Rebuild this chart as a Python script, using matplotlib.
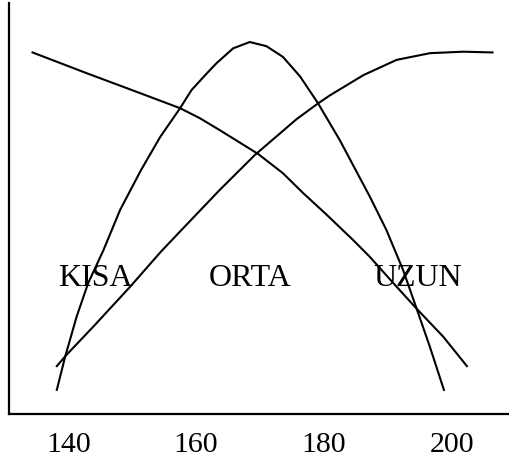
import matplotlib

matplotlib.use("Agg")
import matplotlib.pyplot as plt

# membership curves (height in cm, membership 0..1)
kisa_x = [134.4, 142.9, 150.7, 157.5, 160.6, 163.7, 169.7, 173.6, 176.8, 180.4,
          184.6, 187.2, 190.9, 194.5, 198.7, 202.4]
kisa_y = [0.972, 0.916, 0.866, 0.822, 0.795, 0.763, 0.699, 0.647, 0.593, 0.536,
          0.467, 0.422, 0.351, 0.283, 0.207, 0.128]

orta_x = [138.2, 139.5, 141.3, 143.1, 145.5, 148.1, 151.4, 154.4, 157.5, 159.3, 161.7, 163.2, 165.8,
          168.4, 171.0, 173.6, 176.3, 177.7, 179.1, 182.5, 187.2, 189.8, 192.4, 194.5, 196.6, 198.8]
orta_y = [0.064, 0.153, 0.261, 0.351, 0.440, 0.548, 0.656, 0.745, 0.822, 0.871, 0.916, 0.943, 0.983,
          1.000, 0.989, 0.960, 0.907, 0.871, 0.835, 0.736, 0.584, 0.494, 0.387, 0.284, 0.180, 0.064]

uzun_x = [138.2, 139.7, 143.9, 149.7, 154.5, 157.7, 163.7, 169.2, 175.7, 179.1, 181.0,
          186.2, 191.4, 196.6, 201.8, 206.4]
uzun_y = [0.128, 0.158, 0.234, 0.342, 0.436, 0.494, 0.602, 0.696, 0.792, 0.835, 0.857,
          0.911, 0.952, 0.970, 0.974, 0.972]

ticks = [140, 160, 180, 200]
labels = ["KISA", "ORTA", "UZUN"]
label_x = [144.2, 168.4, 194.7]
label_y = 0.365

plt.rcParams.update({
    "font.family": "Liberation Serif", "font.size": 22,
})

fig = plt.figure(figsize=(5.10, 4.63), dpi=100)
ax = fig.add_axes([0.0167, 0.1065, 0.983, 0.887])

for xs, ys in ((kisa_x, kisa_y), (orta_x, orta_y), (uzun_x, uzun_y)):
    ax.plot(xs, ys, color="black", lw=1.5, solid_joinstyle="round")

for name, x in zip(labels, label_x):
    ax.text(x, label_y, name, ha="center", va="center", fontsize=23)

ax.set_xlim(130.64, 209.12)
ax.set_ylim(0, 1.105)
ax.set_xticks(ticks)
ax.set_yticks([])
ax.tick_params(axis="x", length=0, pad=13, labelsize=21.5)
for side in ("top", "right"):
    ax.spines[side].set_visible(False)
for side in ("left", "bottom"):
    ax.spines[side].set_linewidth(1.6)

fig.savefig("out.png", dpi=100)
